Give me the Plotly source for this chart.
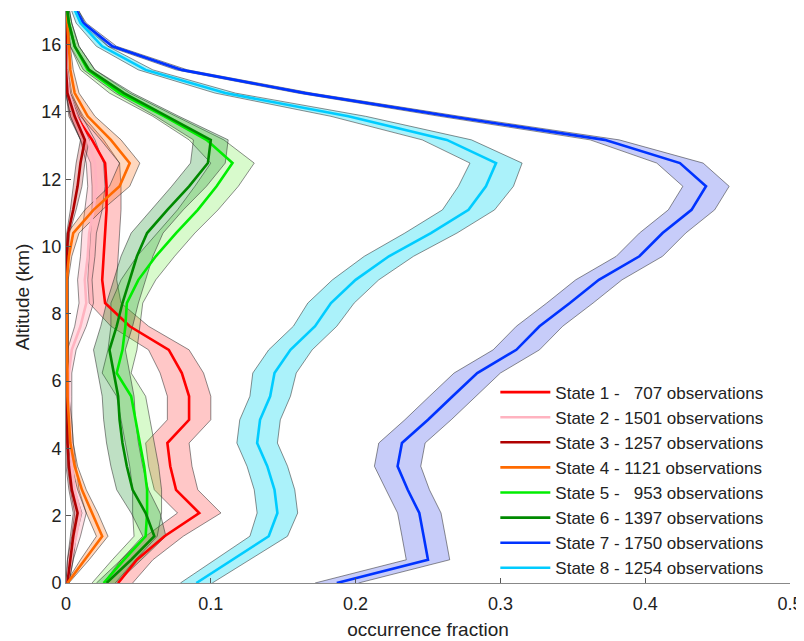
import plotly.graph_objects as go

# Altitude levels (km)
altitude = [0.00, 0.69, 1.39, 2.08, 2.77, 3.47, 4.16, 4.85, 5.55, 6.24, 6.93, 7.63, 8.32,
            9.01, 9.71, 10.40, 11.09, 11.79, 12.48, 13.17, 13.87, 14.56, 15.25, 15.95, 16.64, 17.34]

NB = "\u00a0"
state_labels = [
    "State 1 -" + NB * 3 + "707 observations",
    "State 2 - 1501 observations",
    "State 3 - 1257 observations",
    "State 4 - 1121 observations",
    "State 5 -" + NB * 3 + "953 observations",
    "State 6 - 1397 observations",
    "State 7 - 1750 observations",
    "State 8 - 1254 observations",
]

# mean occurrence fraction per state
s1_mean = [0.036, 0.049, 0.068, 0.092, 0.076, 0.072, 0.070, 0.085, 0.085, 0.080, 0.071, 0.044, 0.027,
           0.025, 0.026, 0.027, 0.028, 0.028, 0.027, 0.018, 0.007, 0.001, 0.000, 0.000, 0.000, 0.000]
s2_mean = [0.001, 0.003, 0.007, 0.010, 0.006, 0.004, 0.003, 0.002, 0.002, 0.002, 0.004, 0.010, 0.014,
           0.013, 0.015, 0.016, 0.019, 0.021, 0.020, 0.015, 0.007, 0.002, 0.0005, 0.000, 0.000, 0.000]
s3_mean = [0.001, 0.003, 0.005, 0.008, 0.004, 0.002, 0.001, 0.001, 0.0005, 0.0005, 0.0005, 0.0005, 0.0005,
           0.0005, 0.0005, 0.0015, 0.005, 0.008, 0.010, 0.013, 0.006, 0.001, 0.000, 0.000, 0.000, 0.000]
s4_mean = [0.001, 0.013, 0.025, 0.018, 0.011, 0.006, 0.003, 0.002, 0.001, 0.001, 0.0005, 0.0005, 0.0005,
           0.0005, 0.002, 0.005, 0.019, 0.037, 0.044, 0.031, 0.015, 0.006, 0.003, 0.002, 0.001, 0.000]
s5_mean = [0.026, 0.040, 0.055, 0.056, 0.056, 0.054, 0.051, 0.048, 0.045, 0.035, 0.039, 0.041, 0.042,
           0.050, 0.062, 0.076, 0.091, 0.104, 0.115, 0.097, 0.068, 0.037, 0.015, 0.006, 0.002, 0.000]
s6_mean = [0.028, 0.045, 0.061, 0.055, 0.046, 0.042, 0.039, 0.037, 0.036, 0.033, 0.030, 0.035, 0.039,
           0.044, 0.049, 0.056, 0.070, 0.085, 0.098, 0.100, 0.070, 0.040, 0.016, 0.006, 0.002, 0.000]
s7_mean = [0.187, 0.250, 0.247, 0.244, 0.236, 0.229, 0.232, 0.250, 0.267, 0.284, 0.311, 0.327, 0.348,
           0.368, 0.396, 0.412, 0.432, 0.442, 0.424, 0.372, 0.265, 0.165, 0.080, 0.032, 0.012, 0.003]
s8_mean = [0.090, 0.115, 0.140, 0.146, 0.144, 0.139, 0.132, 0.134, 0.141, 0.144, 0.155, 0.172, 0.183,
           0.200, 0.223, 0.252, 0.278, 0.290, 0.297, 0.263, 0.195, 0.110, 0.055, 0.025, 0.010, 0.003]

# half-width of the uncertainty band per state
s1_err = [0.010, 0.011, 0.013, 0.015, 0.015, 0.015, 0.015, 0.015, 0.015, 0.015, 0.014, 0.013, 0.011,
          0.010, 0.010, 0.010, 0.010, 0.010, 0.010, 0.008, 0.005, 0.002, 0.0005, 0.0005, 0.0005, 0.0005]
s2_err = [0.001, 0.002, 0.003, 0.004, 0.003, 0.003, 0.002, 0.002, 0.002, 0.002, 0.003, 0.004, 0.005,
          0.005, 0.005, 0.005, 0.006, 0.006, 0.006, 0.005, 0.004, 0.002, 0.001, 0.0005, 0.0005, 0.0005]
s3_err = [0.001, 0.002, 0.002, 0.003, 0.002, 0.002, 0.001, 0.001, 0.001, 0.001, 0.001, 0.001, 0.001,
          0.001, 0.001, 0.001, 0.002, 0.003, 0.003, 0.003, 0.003, 0.001, 0.0005, 0.0005, 0.0005, 0.0005]
s4_err = [0.001, 0.003, 0.004, 0.004, 0.003, 0.002, 0.002, 0.002, 0.001, 0.001, 0.001, 0.001, 0.001,
          0.001, 0.002, 0.004, 0.006, 0.007, 0.007, 0.007, 0.005, 0.003, 0.002, 0.001, 0.001, 0.0005]
s5_err = [0.008, 0.008, 0.008, 0.010, 0.010, 0.010, 0.010, 0.010, 0.010, 0.010, 0.010, 0.010, 0.011,
          0.012, 0.013, 0.013, 0.014, 0.015, 0.015, 0.012, 0.008, 0.007, 0.005, 0.003, 0.002, 0.001]
s6_err = [0.007, 0.007, 0.008, 0.010, 0.011, 0.011, 0.011, 0.011, 0.011, 0.011, 0.011, 0.011, 0.011,
          0.011, 0.011, 0.011, 0.011, 0.012, 0.012, 0.012, 0.008, 0.006, 0.004, 0.003, 0.002, 0.001]
s7_err = [0.015, 0.015, 0.015, 0.015, 0.015, 0.016, 0.016, 0.016, 0.016, 0.016, 0.016, 0.016, 0.016,
          0.016, 0.016, 0.016, 0.016, 0.016, 0.016, 0.010, 0.007, 0.005, 0.004, 0.003, 0.002, 0.001]
s8_err = [0.011, 0.012, 0.013, 0.014, 0.014, 0.014, 0.014, 0.014, 0.014, 0.015, 0.015, 0.015, 0.016,
          0.016, 0.017, 0.018, 0.018, 0.019, 0.018, 0.017, 0.012, 0.007, 0.005, 0.004, 0.003, 0.002]

means = [s1_mean, s2_mean, s3_mean, s4_mean, s5_mean, s6_mean, s7_mean, s8_mean]
errs = [s1_err, s2_err, s3_err, s4_err, s5_err, s6_err, s7_err, s8_err]

line_colors = ["#ff0000", "#ffb3c0", "#b00000", "#ff6a00", "#00ee00", "#008a00", "#0033ff", "#00ccff"]
fill_colors = ["rgba(255,0,0,0.22)", "rgba(255,150,170,0.30)", "rgba(170,0,0,0.22)",
               "rgba(255,110,20,0.28)", "rgba(60,230,0,0.20)", "rgba(0,130,20,0.25)",
               "rgba(20,40,230,0.24)", "rgba(0,215,240,0.33)"]

fig = go.Figure()

# uncertainty bands
for m, e, fc in zip(means, errs, fill_colors):
    lo = [max(a - b, 0.0) for a, b in zip(m, e)]
    hi = [a + b for a, b in zip(m, e)]
    fig.add_trace(go.Scatter(
        x=lo + hi[::-1], y=altitude + altitude[::-1],
        mode="lines", fill="toself", fillcolor=fc,
        line=dict(color="rgba(40,40,40,0.75)", width=0.7),
        hoverinfo="skip", showlegend=False))

# mean profiles
for m, lc, name in zip(means, line_colors, state_labels):
    fig.add_trace(go.Scatter(
        x=m, y=altitude, mode="lines", name=name,
        line=dict(color=lc, width=2.6)))

axis_common = dict(
    showgrid=False, zeroline=False, showline=True, linecolor="#888888", linewidth=1,
    ticks="inside", ticklen=5, tickcolor="#555555", mirror=False, automargin=False,
    tickfont=dict(size=18, color="#222222"),
)

# page body has an 8px margin: figure is sized/offset to land on the 804x641 view
fig.update_layout(
    width=804, height=633,
    margin=dict(l=58, r=22, t=3, b=58),
    paper_bgcolor="white", plot_bgcolor="white",
    font=dict(family="Liberation Sans, Arial, Helvetica, sans-serif", size=18, color="#222222"),
    xaxis=dict(range=[0, 0.5], tickvals=[0, 0.1, 0.2, 0.3, 0.4, 0.5],
               ticktext=["0", "0.1", "0.2", "0.3", "0.4", "0.5"], ticklabelstandoff=4,
               title=dict(text="occurrence fraction", font=dict(size=19), standoff=10),
               **axis_common),
    yaxis=dict(range=[0, 17], tickvals=[0, 2, 4, 6, 8, 10, 12, 14, 16],
               title=dict(text="Altitude (km)", font=dict(size=19), standoff=6),
               **axis_common),
    legend=dict(x=0.593, y=0.18, xanchor="left", yanchor="middle",
                bgcolor="rgba(255,255,255,0)", borderwidth=0,
                font=dict(size=17, color="#222222"), itemwidth=50,
                tracegroupgap=0),
    showlegend=True,
)

fig.write_html("out.html")
